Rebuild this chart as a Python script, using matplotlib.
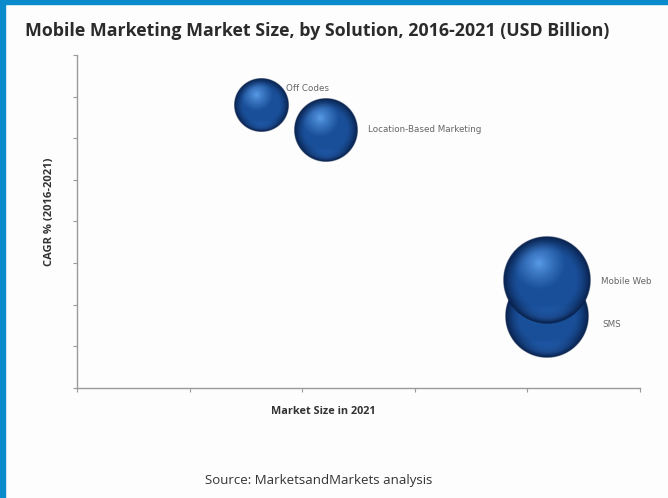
import numpy as np
import matplotlib
matplotlib.use("Agg")
import matplotlib.pyplot as plt
from matplotlib.patches import Rectangle

# ---- data ----
solutions = ["Off Codes", "Location-Based Marketing", "Mobile Web", "SMS"]
market_size_2021 = [1.63, 2.21, 4.17, 4.17]
cagr = [6.8, 6.2, 2.6, 1.73]
bubble_size = [27, 32, 44, 42]
label_offsets = [(18, 12), (30, 0), (39, -1), (40, -6)]  # points
draw_order = [0, 1, 3, 2]

title = "Mobile Marketing Market Size, by Solution, 2016-2021 (USD Billion)"
xlabel = "Market Size in 2021"
ylabel = "CAGR % (2016-2021)"
source = "Source: MarketsandMarkets analysis"

W, H = 668, 498
fig = plt.figure(figsize=(W / 100, H / 100), dpi=100)
fig.patch.set_facecolor("#fdfdfd")

# blue frame (left and top)
fig.patches.append(Rectangle((0, 0), 4.5 / W, 1, transform=fig.transFigure,
                             color="#0a8ccc", zorder=10))
fig.patches.append(Rectangle((0, 1 - 4.5 / H), 1, 4.5 / H, transform=fig.transFigure,
                             color="#0a8ccc", zorder=10))

ax = fig.add_axes([77 / W, 1 - 388 / H, (640 - 77) / W, (388 - 55) / H])
ax.set_facecolor("none")
ax.set_xlim(0, 5)
ax.set_ylim(0, 8)
ax.set_xticks(np.arange(0, 6))
ax.set_yticks(np.arange(0, 9))
ax.set_xticklabels([])
ax.set_yticklabels([])
for s in ["top", "right"]:
    ax.spines[s].set_visible(False)
for s in ["left", "bottom"]:
    ax.spines[s].set_color("#9a9a9a")
    ax.spines[s].set_linewidth(1.0)
ax.tick_params(axis="both", direction="out", length=3, width=0.8, color="#9a9a9a")


def sphere_image(n=240):
    yy, xx = np.mgrid[-1:1:n * 1j, -1:1:n * 1j]
    rr = np.sqrt(xx ** 2 + yy ** 2)
    hx, hy = -0.18, -0.38
    dh = np.sqrt((xx - hx) ** 2 + (yy - hy) ** 2)
    c_hi = np.array([0.36, 0.62, 0.92])
    c_mid = np.array([0.10, 0.31, 0.60])
    c_dark = np.array([0.03, 0.12, 0.28])
    t = np.clip(dh / 0.6, 0, 1)[..., None] ** 0.8
    col = c_hi * (1 - t) + c_mid * t
    e = np.clip((rr - 0.65) / 0.35, 0, 1)[..., None] ** 1.5
    col = col * (1 - e) + c_dark * e
    # slight bottom reflection
    refl = np.clip((yy - 0.55) / 0.4, 0, 1) * np.clip((0.97 - rr) / 0.1, 0, 1)
    col = col + (np.array([0.10, 0.18, 0.28]) * refl[..., None]) * 0.5
    alpha = np.clip((1 - rr) * n / 2.5, 0, 1)
    img = np.dstack([np.clip(col, 0, 1), alpha])
    return img


img = sphere_image()
inv = ax.transData.inverted()
for z, i in enumerate(draw_order):
    cx, cy = ax.transData.transform((market_size_2021[i], cagr[i]))
    r = bubble_size[i] * fig.dpi / 100
    (x0, y0) = inv.transform((cx - r, cy - r))
    (x1, y1) = inv.transform((cx + r, cy + r))
    ax.imshow(img, extent=(x0, x1, y0, y1), origin="upper", aspect="auto",
              interpolation="bilinear", zorder=3 + z)

for i, name in enumerate(solutions):
    ax.annotate(name, (market_size_2021[i], cagr[i]), xytext=label_offsets[i],
                textcoords="offset points", fontsize=6.3, color="#666666",
                ha="left", va="center", family="DejaVu Sans", zorder=20)

ax.set_xlim(0, 5)
ax.set_ylim(0, 8)

fig.text(25 / W, 1 - 31 / H, title, fontsize=12.8, fontweight="bold",
         color="#2b2b2b", ha="left", va="center", family="Open Sans")
fig.text(50 / W, 1 - 212 / H, ylabel, rotation=90, fontsize=8, fontweight="bold",
         color="#333333", ha="center", va="center", family="Open Sans")
fig.text(323 / W, 1 - 411 / H, xlabel, fontsize=7.8, fontweight="bold",
         color="#333333", ha="center", va="center", family="Open Sans")
fig.text(319 / W, 1 - 480 / H, source, fontsize=9.5,
         color="#333333", ha="center", va="center", family="Open Sans")

fig.savefig("out.png", dpi=100, facecolor=fig.get_facecolor())
